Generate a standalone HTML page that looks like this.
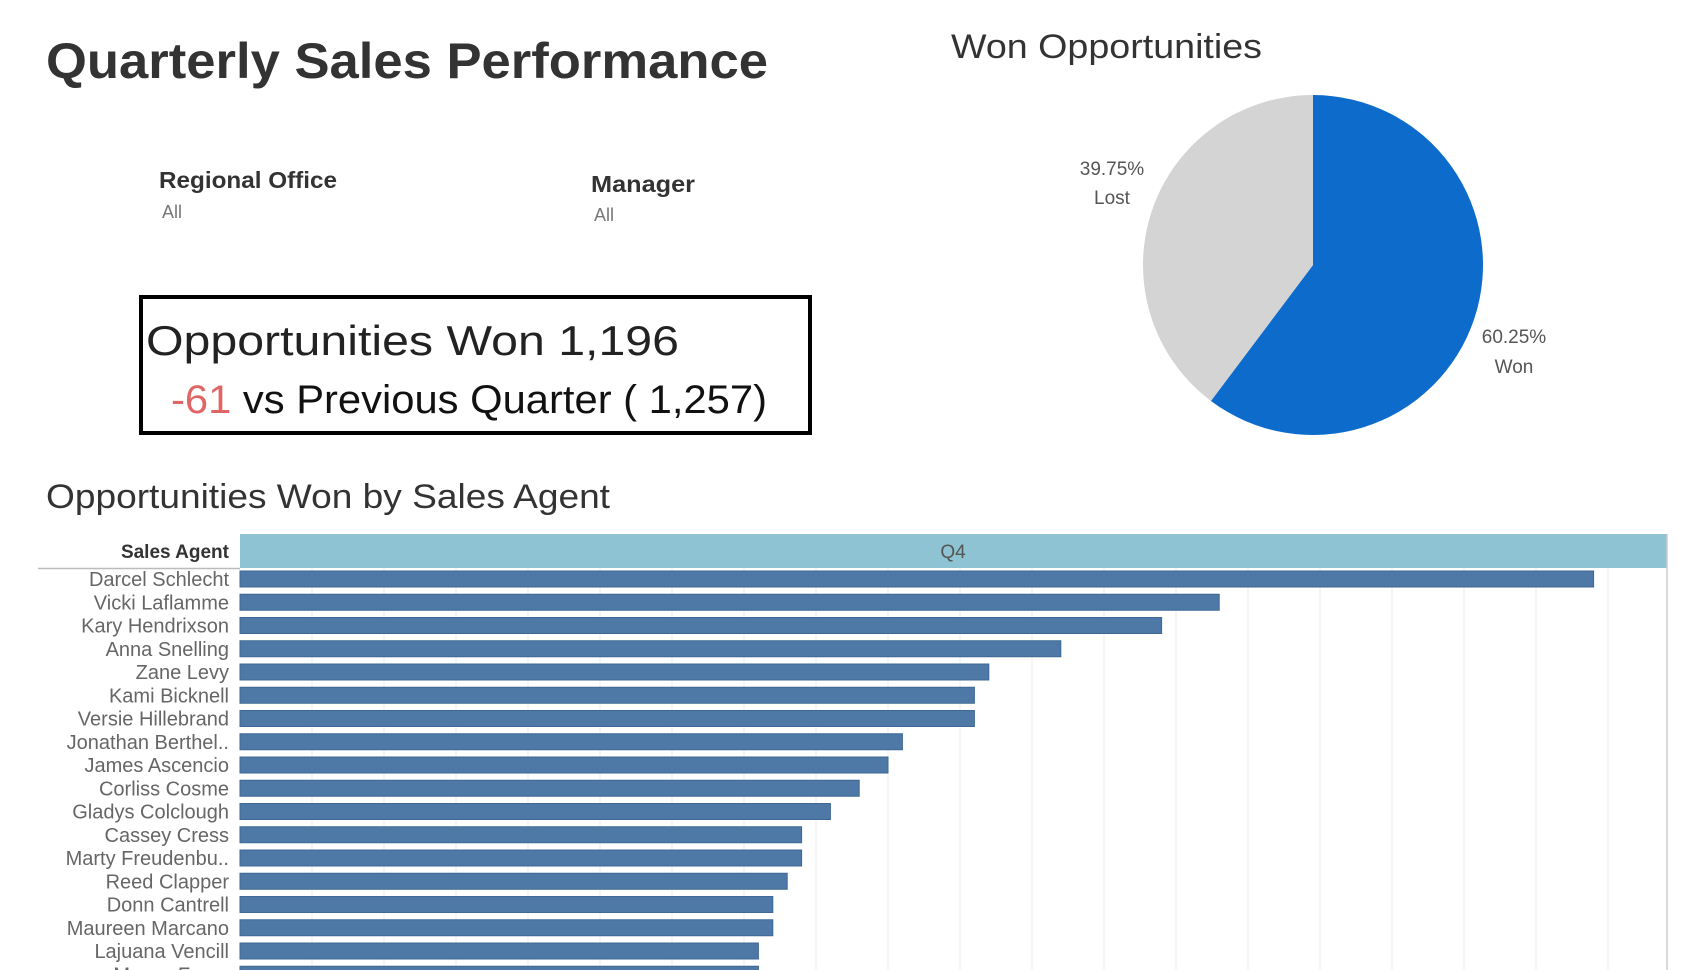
<!DOCTYPE html>
<html><head><meta charset="utf-8"><style>
html,body{margin:0;padding:0;background:#fff;width:1700px;height:970px;overflow:hidden}
svg{display:block;font-family:"Liberation Sans",sans-serif}
</style></head><body>
<svg id="root" width="1700" height="970" viewBox="0 0 1700 970">
<text x="46" y="78" font-size="50" font-weight="bold" fill="#333" textLength="722" lengthAdjust="spacingAndGlyphs">Quarterly Sales Performance</text>
<g>
<text x="159" y="188" font-size="23" font-weight="bold" fill="#333" textLength="178" lengthAdjust="spacingAndGlyphs">Regional Office</text>
<text x="162" y="218" font-size="18" fill="#777">All</text>
</g>
<g>
<text x="591" y="192" font-size="23" font-weight="bold" fill="#333" textLength="104" lengthAdjust="spacingAndGlyphs">Manager</text>
<text x="594" y="221" font-size="18" fill="#777">All</text>
</g>
<g>
<rect x="141" y="297" width="669" height="136" fill="none" stroke="#000" stroke-width="4"/>
<text x="146" y="355" font-size="42" fill="#222" textLength="533" lengthAdjust="spacingAndGlyphs">Opportunities Won 1,196</text>
<text x="171" y="413" font-size="40" fill="#111" textLength="596" lengthAdjust="spacingAndGlyphs"><tspan fill="#e06666">-61</tspan> vs Previous Quarter ( 1,257)</text>
</g>
<text x="951" y="58" font-size="34" fill="#333" textLength="311" lengthAdjust="spacingAndGlyphs">Won Opportunities</text>
<g id="pie"></g>
<text x="46" y="508" font-size="34" fill="#333" textLength="564" lengthAdjust="spacingAndGlyphs">Opportunities Won by Sales Agent</text>
<rect x="240" y="534" width="1427" height="34" fill="#8dc3d3"/>
<text x="953" y="558" font-size="19" fill="#555" text-anchor="middle">Q4</text>
<text x="229" y="558" font-size="19" font-weight="bold" fill="#333" text-anchor="end">Sales Agent</text>
<line x1="38" y1="568.5" x2="240" y2="568.5" stroke="#bbb" stroke-width="1.5"/>
<line x1="1667" y1="534" x2="1667" y2="970" stroke="#ccc" stroke-width="1.5"/>
<g id="grid"></g>
<g id="bars"></g>
<g id="labels"></g>
</svg>
<script>
const agents = ["Darcel Schlecht","Vicki Laflamme","Kary Hendrixson","Anna Snelling","Zane Levy","Kami Bicknell","Versie Hillebrand","Jonathan Berthel..","James Ascencio","Corliss Cosme","Gladys Colclough","Cassey Cress","Marty Freudenbu..","Reed Clapper","Donn Cantrell","Maureen Marcano","Lajuana Vencill","Moses Frase"];
const wonCounts = [94,68,64,57,52,51,51,46,45,43,41,39,39,38,37,37,36,36];
const pieLabels = ["Won","Lost"];
const piePercents = [60.25,39.75];
const gridTicks = [0,5,10,15,20,25,30,35,40,45,50,55,60,65,70,75,80,85,90,95,100];

const NS = "http://www.w3.org/2000/svg";
const x0 = 240, pxPerUnit = 14.4, rowTop = 571, rowPitch = 23.25, barH = 16;
function xScale(v){ return x0 + v * pxPerUnit; }
function yRow(i){ return rowTop + i * rowPitch; }
function mk(tag, attrs){ const e = document.createElementNS(NS, tag); for (const k in attrs) e.setAttribute(k, attrs[k]); return e; }

const grid = document.getElementById('grid');
gridTicks.forEach(t => {
  const x = xScale(t);
  if (t === 0 || x > 1660) return;
  const l = mk('line', {x1:x, y1:568, x2:x, y2:970, stroke:'#ececec', 'stroke-width':1});
  
  
  grid.appendChild(l);
});

const bars = document.getElementById('bars'), labels = document.getElementById('labels');
agents.forEach((a, i) => {
  const y = yRow(i);
  const r = mk('rect', {x:x0, y:y, width:xScale(wonCounts[i]) - x0, height:barH, fill:'#4e79a7', stroke:'#3f6894', 'stroke-width':1});
  
  
  bars.appendChild(r);
  const t = mk('text', {x:229, y:y + barH/2 + 7, 'font-size':20, fill:'#666', 'text-anchor':'end'});
  t.textContent = a;
  
  
  labels.appendChild(t);
});

const pie = document.getElementById('pie');
const cx = 1313, cy = 265, R = 170;
const colors = ['#0d6ccb', '#d4d4d4'];
const labelPos = [[1514, 343, 373], [1112, 175, 204]];
let start = 0;
piePercents.forEach((p, i) => {
  const a0 = start / 100 * 2 * Math.PI, a1 = (start + p) / 100 * 2 * Math.PI;
  const xA = cx + R * Math.sin(a0), yA = cy - R * Math.cos(a0);
  const xB = cx + R * Math.sin(a1), yB = cy - R * Math.cos(a1);
  const large = p > 50 ? 1 : 0;
  const path = mk('path', {d:`M${cx},${cy} L${xA},${yA} A${R},${R} 0 ${large} 1 ${xB},${yB} Z`, fill:colors[i]});
  
  
  pie.appendChild(path);
  const lp = labelPos[i];
  const t1 = mk('text', {x:lp[0], y:lp[1], 'font-size':19, fill:'#555', 'text-anchor':'middle'});
  t1.textContent = p.toFixed(2) + '%';
  
  
  pie.appendChild(t1);
  const t2 = mk('text', {x:lp[0], y:lp[2], 'font-size':19, fill:'#555', 'text-anchor':'middle'});
  t2.textContent = pieLabels[i];
  
  
  pie.appendChild(t2);
  start += p;
});
</script>
</body></html>
